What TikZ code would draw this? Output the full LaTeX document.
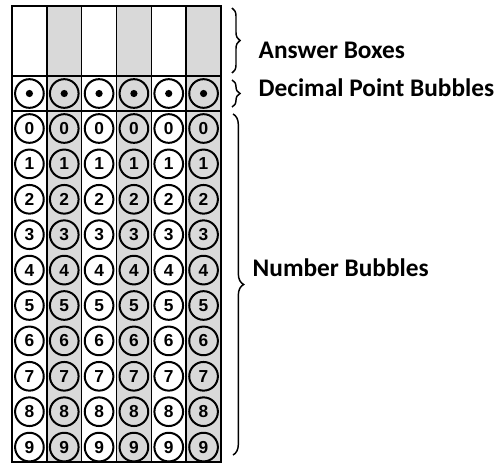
\documentclass[tikz,border=0pt]{standalone}
\usepackage{fontspec}
\setmainfont{Carlito}
\newfontfamily\digitfont{Liberation Sans}
\usepackage{xcolor}
\usepackage{tikz}
\usetikzlibrary{
arrows.meta,
positioning,
decorations.pathreplacing,
calc
}
\definecolor{gridgray}{HTML}{D9D9D9}

\begin{document}
\begin{tikzpicture}[
  x=0.75pt, y=-0.75pt,
  bubble/.style={draw, circle, line width=1.5pt, minimum size=21.5pt, inner sep=0pt, font=\digitfont\bfseries\fontsize{13}{13}\selectfont},
  gridline/.style={line width=1.2pt},
  brace/.style={decorate, decoration={brace, amplitude=6pt}, line width=1.1pt},
  label/.style={right, font=\bfseries\fontsize{19}{19}\selectfont}
]
\useasboundingbox (0,0) rectangle (501,464);

% Shaded columns
\foreach \c in {2,4,6} {
  \fill[gridgray] ({12+34.83*(\c-1)}, 6) rectangle ({12+34.83*\c}, 462);
}

% Column lines
\foreach \c in {1,...,5} {
  \draw[gridline] ({12+34.83*\c}, 6) -- ({12+34.83*\c}, 462);
}

% Row separators and border
\draw[line width=1.6pt] (12,76) -- (221,76);
\draw[line width=1.6pt] (12,111) -- (221,111);
\draw[line width=2pt] (12,6) rectangle (221,462);

% Decimal point bubbles
\foreach \c in {1,...,6} {
  \node[bubble] (dot\c) at ({12+34.83*(\c-0.5)}, 93.5) {};
  \fill (dot\c) circle (3.6);
}

% Number bubbles
\foreach \c in {1,...,6} {
  \foreach \d in {0,...,9} {
    \node[bubble] (num\c\d) at ({12+34.83*(\c-0.5)}, {128.5+35.4*\d}) {\d};
  }
}

% Braces
\coordinate (ansTop) at (232,8);
\coordinate (ansBot) at (232,73);
\coordinate (decTop) at (232,80);
\coordinate (decBot) at (232,107);
\coordinate (numTop) at (233,114);
\coordinate (numBot) at (233,455);
\draw[brace] (ansTop) -- (ansBot);
\draw[brace] (decTop) -- (decBot);
\draw[brace, decoration={amplitude=8pt}] (numTop) -- (numBot);

% Labels
\node[label] (ans) at (254,50) {Answer Boxes};
\node[label] (dec) at (254,88) {Decimal Point Bubbles};
\node[label] (num) at (248,268) {Number Bubbles};

\end{tikzpicture}
\end{document}
